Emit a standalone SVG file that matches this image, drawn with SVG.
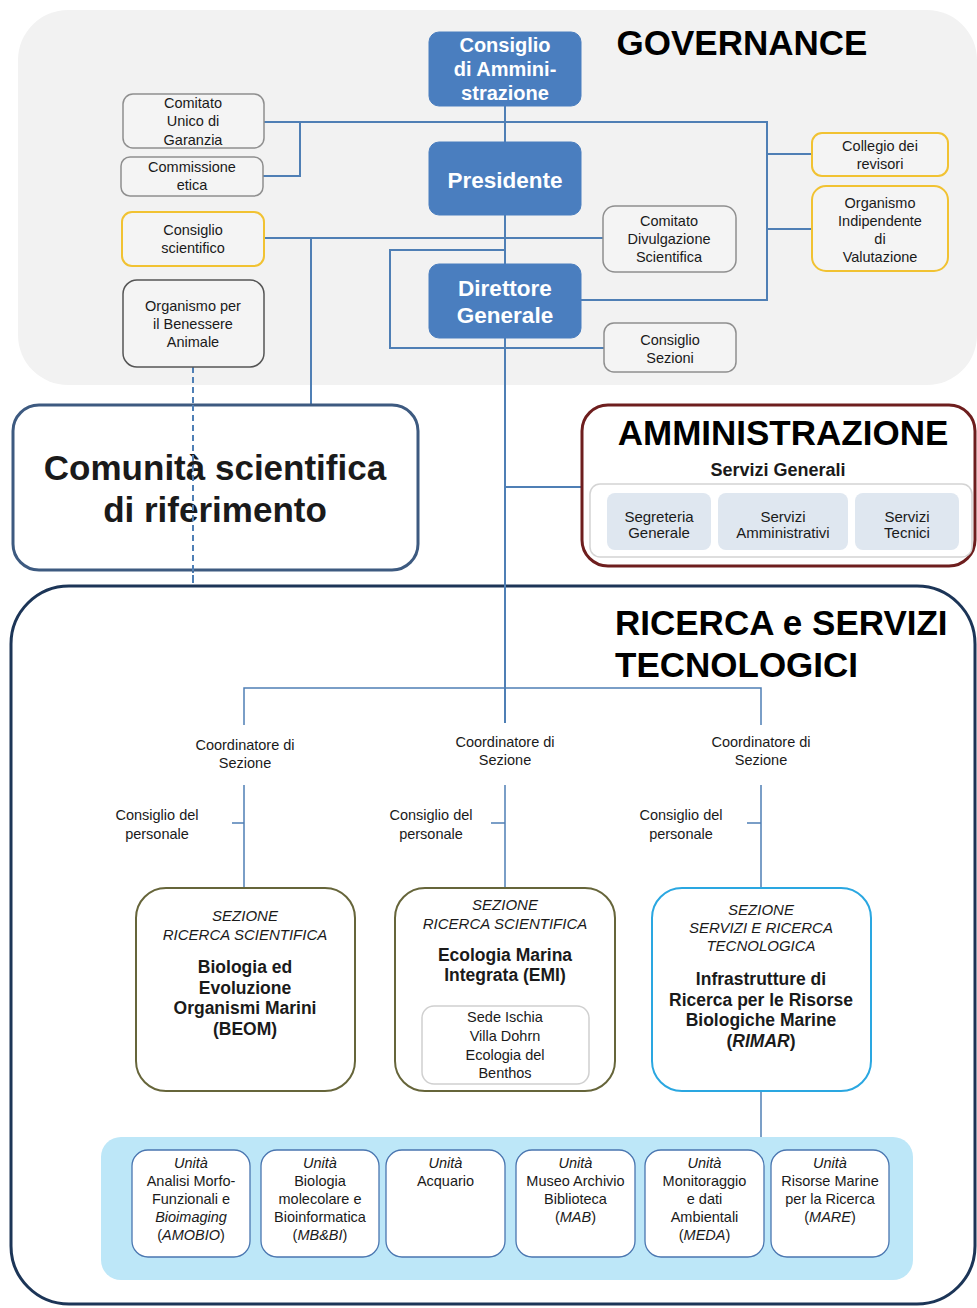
<svg xmlns="http://www.w3.org/2000/svg" width="977" height="1308" viewBox="0 0 977 1308">
<defs>
<style>
text{font-family:"Liberation Sans",Arial,sans-serif;fill:#1a1a1a;text-anchor:middle}
.t{font-size:14.5px}
.it{font-style:italic}
.b{font-weight:bold}
.hdr{font-size:35px;font-weight:bold;fill:#000}
.wh{fill:#fff;font-weight:bold}
.gbox{fill:#f4f4f4;stroke:#8f8f8f;stroke-width:1.5}
.ybox{fill:#f4f4f4;stroke:#f1c232;stroke-width:2}
.dbox{fill:#f4f4f4;stroke:#555;stroke-width:1.5}
.blue{fill:#4a7ebf;stroke:#4a7ebf}
.sec{fill:#fff;stroke:#66653a;stroke-width:2}
.unit{fill:#fff;stroke:#4a76b0;stroke-width:1.3}
.sub{fill:#dfe7f0;stroke:none}
.ln{fill:none;stroke:#4f7fb5;stroke-width:2}
.ln2{fill:none;stroke:#4f7fb5;stroke-width:1.5}
</style>
</defs>
<!-- backgrounds -->
<rect id="governance-bg" x="18" y="10" width="959" height="375" rx="50" fill="#f2f2f2"/>
<text class="hdr" x="742" y="55">GOVERNANCE</text>

<g id="ricerca">
<rect x="11" y="586" width="964" height="718" rx="58" fill="#fff" stroke="#1c3557" stroke-width="3"/>
<text class="hdr" x="615" y="635" style="text-anchor:start">RICERCA e SERVIZI</text>
<text class="hdr" x="615" y="677" style="text-anchor:start">TECNOLOGICI</text>
</g>

<!-- connectors -->
<g id="connectors">
<path class="ln" d="M264,122 H767 V300 H581"/>
<path class="ln" d="M263,176 H300 V122"/>
<path class="ln" d="M767,154 H812 M767,229 H812"/>
<path class="ln" d="M264,238 H603"/>
<path class="ln" d="M311,238 V405"/>
<path class="ln" d="M505,250 H390 V348 H604"/>
<path class="ln" d="M505,105 V142 M505,215 V264 M505,338 V723"/>
<path class="ln" d="M505,487 H582"/>
<path class="ln" d="M193,367 V585" stroke-dasharray="6,4"/>
<path class="ln2" d="M244,725 V688 H761 V725"/>
<path class="ln2" d="M244,785 V888 M505,785 V888 M761,785 V888"/>
<path class="ln2" d="M232,823 H244 M491,823 H505 M747,823 H761"/>
<path class="ln2" d="M761,1092 V1137" stroke="#2aa7e1"/>
</g>

<!-- governance nodes -->
<g id="cda">
<rect class="blue" x="429" y="32" width="152" height="74" rx="10"/>
<text class="wh" x="505" y="52" font-size="20">Consiglio</text>
<text class="wh" x="505" y="76" font-size="20">di Ammini-</text>
<text class="wh" x="505" y="100" font-size="20">strazione</text>
</g>
<g id="presidente">
<rect class="blue" x="429" y="142" width="152" height="73" rx="10"/>
<text class="wh" x="505" y="188" font-size="22.5">Presidente</text>
</g>
<g id="direttore">
<rect class="blue" x="429" y="264" width="152" height="74" rx="10"/>
<text class="wh" x="505" y="296" font-size="22.5">Direttore</text>
<text class="wh" x="505" y="323" font-size="22.5">Generale</text>
</g>
<g id="cug">
<rect class="gbox" x="123" y="94" width="141" height="54" rx="10"/>
<text class="t" x="193" y="108">Comitato</text>
<text class="t" x="193" y="126">Unico di</text>
<text class="t" x="193" y="145">Garanzia</text>
</g>
<g id="etica">
<rect class="gbox" x="121" y="157" width="142" height="39" rx="9"/>
<text class="t" x="192" y="172">Commissione</text>
<text class="t" x="192" y="190">etica</text>
</g>
<g id="cons-scient">
<rect class="ybox" x="122" y="212" width="142" height="54" rx="10"/>
<text class="t" x="193" y="235">Consiglio</text>
<text class="t" x="193" y="253">scientifico</text>
</g>
<g id="obea">
<rect class="dbox" x="123" y="280" width="141" height="87" rx="14"/>
<text class="t" x="193" y="311">Organismo per</text>
<text class="t" x="193" y="329">il Benessere</text>
<text class="t" x="193" y="347">Animale</text>
</g>
<g id="cds">
<rect class="gbox" x="603" y="206" width="133" height="66" rx="12"/>
<text class="t" x="669" y="226">Comitato</text>
<text class="t" x="669" y="244">Divulgazione</text>
<text class="t" x="669" y="262">Scientifica</text>
</g>
<g id="cons-sezioni">
<rect class="gbox" x="604" y="323" width="132" height="49" rx="10"/>
<text class="t" x="670" y="345">Consiglio</text>
<text class="t" x="670" y="363">Sezioni</text>
</g>
<g id="revisori">
<rect class="ybox" x="812" y="133" width="136" height="43" rx="10"/>
<text class="t" x="880" y="151">Collegio dei</text>
<text class="t" x="880" y="169">revisori</text>
</g>
<g id="oiv">
<rect class="ybox" x="812" y="186" width="136" height="85" rx="14"/>
<text class="t" x="880" y="208">Organismo</text>
<text class="t" x="880" y="226">Indipendente</text>
<text class="t" x="880" y="244">di</text>
<text class="t" x="880" y="262">Valutazione</text>
</g>

<!-- comunità -->
<g id="comunita">
<rect x="13" y="405" width="405" height="165" rx="26" fill="#fff" stroke="#3d5a80" stroke-width="3"/>
<text x="215" y="480" font-size="35" class="b" fill="#000">Comunità scientifica</text>
<text x="215" y="522" font-size="35" class="b" fill="#000">di riferimento</text>
</g>
<!-- redraw dashed over comunità -->
<path class="ln" d="M193,405 V585" stroke-dasharray="6,4"/>

<!-- amministrazione -->
<g id="amministrazione">
<rect x="582" y="405" width="393" height="161" rx="26" fill="#fff" stroke="#6e1e1e" stroke-width="3"/>
<text class="hdr" x="783" y="445">AMMINISTRAZIONE</text>
<text x="778" y="476" font-size="18" class="b">Servizi Generali</text>
<rect x="590" y="484" width="382" height="73" rx="10" fill="#fff" stroke="#d4d4d4" stroke-width="1.5"/>
<rect class="sub" x="607" y="493" width="104" height="57" rx="8"/>
<rect class="sub" x="718" y="493" width="130" height="57" rx="8"/>
<rect class="sub" x="855" y="493" width="104" height="57" rx="8"/>
<text x="659" y="522" font-size="15">Segreteria</text>
<text x="659" y="538" font-size="15">Generale</text>
<text x="783" y="522" font-size="15">Servizi</text>
<text x="783" y="538" font-size="15">Amministrativi</text>
<text x="907" y="522" font-size="15">Servizi</text>
<text x="907" y="538" font-size="15">Tecnici</text>
</g>

<!-- coordinators -->
<g id="coord-1">
<text class="t" x="245" y="750">Coordinatore di</text>
<text class="t" x="245" y="768">Sezione</text>
<text class="t" x="157" y="820">Consiglio del</text>
<text class="t" x="157" y="839">personale</text>
</g>
<g id="coord-2">
<text class="t" x="505" y="747">Coordinatore di</text>
<text class="t" x="505" y="765">Sezione</text>
<text class="t" x="431" y="820">Consiglio del</text>
<text class="t" x="431" y="839">personale</text>
</g>
<g id="coord-3">
<text class="t" x="761" y="747">Coordinatore di</text>
<text class="t" x="761" y="765">Sezione</text>
<text class="t" x="681" y="820">Consiglio del</text>
<text class="t" x="681" y="839">personale</text>
</g>

<!-- sections -->
<g id="beom">
<rect class="sec" x="136" y="888" width="219" height="203" rx="30"/>
<text class="it" x="245" y="921" font-size="15">SEZIONE</text>
<text class="it" x="245" y="940" font-size="15">RICERCA SCIENTIFICA</text>
<text class="b" x="245" y="973" font-size="17.5">Biologia ed</text>
<text class="b" x="245" y="994" font-size="17.5">Evoluzione</text>
<text class="b" x="245" y="1014" font-size="17.5">Organismi Marini</text>
<text class="b" x="245" y="1035" font-size="17.5">(BEOM)</text>
</g>
<g id="emi">
<rect class="sec" x="395" y="888" width="220" height="203" rx="30"/>
<text class="it" x="505" y="910" font-size="15">SEZIONE</text>
<text class="it" x="505" y="929" font-size="15">RICERCA SCIENTIFICA</text>
<text class="b" x="505" y="961" font-size="17.5">Ecologia Marina</text>
<text class="b" x="505" y="981" font-size="17.5">Integrata (EMI)</text>
<rect x="422" y="1006" width="167" height="78" rx="12" fill="#fff" stroke="#d0d0d0" stroke-width="1.5"/>
<text class="t" x="505" y="1022">Sede Ischia</text>
<text class="t" x="505" y="1041">Villa Dohrn</text>
<text class="t" x="505" y="1060">Ecologia del</text>
<text class="t" x="505" y="1078">Benthos</text>
</g>
<g id="rimar">
<rect x="652" y="888" width="219" height="203" rx="30" fill="#fff" stroke="#2aa7e1" stroke-width="2"/>
<text class="it" x="761" y="915" font-size="15">SEZIONE</text>
<text class="it" x="761" y="933" font-size="15">SERVIZI E RICERCA</text>
<text class="it" x="761" y="951" font-size="15">TECNOLOGICA</text>
<text class="b" x="761" y="985" font-size="17.5">Infrastrutture di</text>
<text class="b" x="761" y="1006" font-size="17.5">Ricerca per le Risorse</text>
<text class="b" x="761" y="1026" font-size="17.5">Biologiche Marine</text>
<text class="b" x="761" y="1047" font-size="17.5">(<tspan class="it">RIMAR</tspan>)</text>
</g>

<!-- units -->
<rect id="units-bg" x="101" y="1137" width="812" height="143" rx="20" fill="#bde7f8"/>
<g id="u-amobio">
<rect class="unit" x="132" y="1150" width="118" height="107" rx="16"/>
<text class="t it" x="191" y="1168">Unità</text>
<text class="t" x="191" y="1186">Analisi Morfo-</text>
<text class="t" x="191" y="1204">Funzionali e</text>
<text class="t it" x="191" y="1222">Bioimaging</text>
<text class="t" x="191" y="1240">(<tspan class="it">AMOBIO</tspan>)</text>
</g>
<g id="u-mbbi">
<rect class="unit" x="261" y="1150" width="118" height="107" rx="16"/>
<text class="t it" x="320" y="1168">Unità</text>
<text class="t" x="320" y="1186">Biologia</text>
<text class="t" x="320" y="1204">molecolare e</text>
<text class="t" x="320" y="1222">Bioinformatica</text>
<text class="t" x="320" y="1240">(<tspan class="it">MB&amp;BI</tspan>)</text>
</g>
<g id="u-acquario">
<rect class="unit" x="386" y="1150" width="119" height="107" rx="16"/>
<text class="t it" x="445.5" y="1168">Unità</text>
<text class="t" x="445.5" y="1186">Acquario</text>
</g>
<g id="u-mab">
<rect class="unit" x="516" y="1150" width="119" height="107" rx="16"/>
<text class="t it" x="575.5" y="1168">Unità</text>
<text class="t" x="575.5" y="1186">Museo Archivio</text>
<text class="t" x="575.5" y="1204">Biblioteca</text>
<text class="t" x="575.5" y="1222">(<tspan class="it">MAB</tspan>)</text>
</g>
<g id="u-meda">
<rect class="unit" x="645" y="1150" width="119" height="107" rx="16"/>
<text class="t it" x="704.5" y="1168">Unità</text>
<text class="t" x="704.5" y="1186">Monitoraggio</text>
<text class="t" x="704.5" y="1204">e dati</text>
<text class="t" x="704.5" y="1222">Ambientali</text>
<text class="t" x="704.5" y="1240">(<tspan class="it">MEDA</tspan>)</text>
</g>
<g id="u-mare">
<rect class="unit" x="771" y="1150" width="118" height="107" rx="16"/>
<text class="t it" x="830" y="1168">Unità</text>
<text class="t" x="830" y="1186">Risorse Marine</text>
<text class="t" x="830" y="1204">per la Ricerca</text>
<text class="t" x="830" y="1222">(<tspan class="it">MARE</tspan>)</text>
</g>
</svg>
